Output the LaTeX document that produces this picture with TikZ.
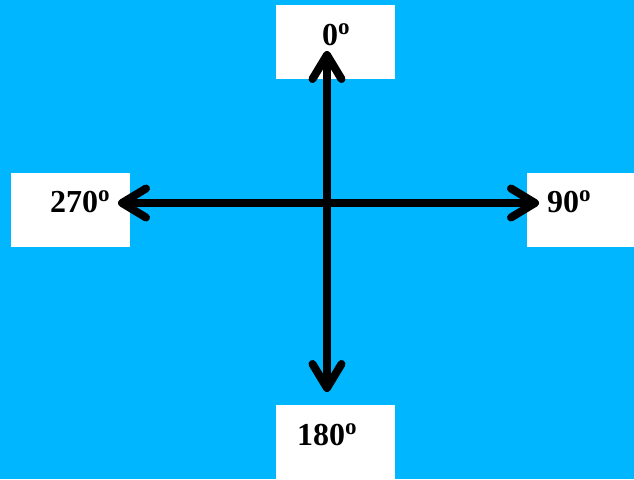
\documentclass[tikz,border=0pt]{standalone}
\usepackage{fontspec}
\setmainfont{Liberation Serif}
\usetikzlibrary{arrows.meta}
\definecolor{bgblue}{RGB}{0,182,255}
\newcommand{\degsup}{\raisebox{11pt}{\fontsize{23}{24}\selectfont o}}
\begin{document}
\begin{tikzpicture}[x=1pt,y=-1pt,
  wbox/.style={fill=white,draw=none,inner sep=0pt,minimum width=119pt,minimum height=74pt},
  lbl/.style={anchor=base west,inner sep=0pt,font=\fontsize{32}{36}\selectfont\bfseries},
  arr/.style={line width=8pt,-{Straight Barb[length=24pt,width=29pt,round]}}]
\fill[bgblue] (0,0) rectangle (634,479);
\useasboundingbox (0,0) rectangle (634,479);
\node[wbox] (btop) at (335.5,42) {};
\node[wbox] (bleft) at (70.5,210) {};
\node[wbox,minimum width=107pt] (bright) at (580.5,210) {};
\node[wbox] (bbot) at (335.5,442) {};
\node[lbl] (ltop) at (322,45) {0\degsup};
\node[lbl] (lleft) at (50,212) {270\degsup};
\node[lbl] (lright) at (547,212) {90\degsup};
\node[lbl] (lbot) at (297,445) {180\degsup};
\coordinate (c) at (327,203);
\coordinate (tn) at (327,51);
\coordinate (ts) at (327,392);
\coordinate (tw) at (118,203);
\coordinate (te) at (539,203);
\draw[arr] (c) -- (tn);
\draw[arr] (c) -- (ts);
\draw[arr] (c) -- (tw);
\draw[arr] (c) -- (te);
\end{tikzpicture}
\end{document}
